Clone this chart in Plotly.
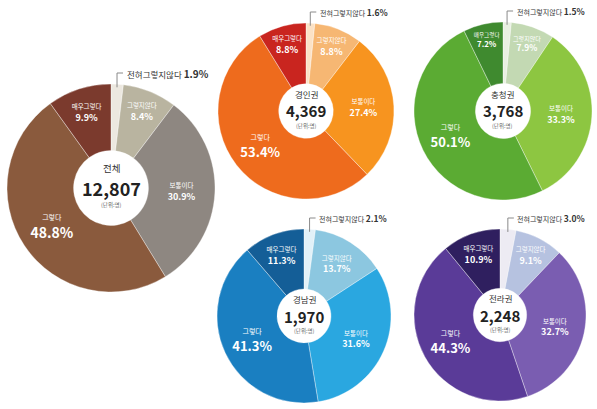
import math
import plotly.graph_objects as go

# Survey answers, clockwise from 12 o'clock
categories = ["전혀그렇지않다", "그렇지않다", "보통이다", "그렇다", "매우그렇다"]

# Region names and number of respondents
regions = ["전체", "경인권", "충청권", "경남권", "전라권"]
respondents = [12807, 4369, 3768, 1970, 2248]

# Share of each answer (%) per region
share_total = [1.9, 8.4, 30.9, 48.8, 9.9]
share_gyeongin = [1.6, 8.8, 27.4, 53.4, 8.8]
share_chungcheong = [1.5, 7.9, 33.3, 50.1, 7.2]
share_gyeongnam = [2.1, 13.7, 31.6, 41.3, 11.3]
share_jeolla = [3.0, 9.1, 32.7, 44.3, 10.9]

shares = [share_total, share_gyeongin, share_chungcheong, share_gyeongnam, share_jeolla]

W, H = 597, 409

# Panel geometry in pixels: centre x, centre y, radius, hole fraction
panels = [
    dict(cx=111, cy=188, r=104, hole=0.36, big=14, num=18, name=9.5,
         colors=["#ece8e0", "#b9b4a0", "#8e8781", "#8a5a3d", "#7b3a2d"]),
    dict(cx=306, cy=111, r=88, hole=0.31, big=13, num=15, name=8.5,
         colors=["#fbe2c6", "#f6b773", "#f7941f", "#ee6b1d", "#c9251f"]),
    dict(cx=503, cy=111, r=89, hole=0.31, big=13, num=15, name=8.5,
         colors=["#e9f0e2", "#c3d9b3", "#8dc641", "#5bab33", "#3f8a2f"]),
    dict(cx=304, cy=316, r=87, hole=0.31, big=13, num=15, name=8.5,
         colors=["#e2f1f8", "#8cc7e0", "#2aa7e0", "#1a7fc1", "#145e97"]),
    dict(cx=500, cy=315, r=86, hole=0.31, big=13, num=15, name=8.5,
         colors=["#edebf3", "#b6c2e0", "#7a5db1", "#5a3b98", "#2f1f5f"]),
]

FONT = "Noto Sans CJK KR"
UNIT_SIZE = 5.5

fig = go.Figure()
shapes = []
annotations = []


def centre_note(x, y, text, size, color, shift):
    return dict(x=x, y=y, xref="paper", yref="paper", text=text, showarrow=False,
                xanchor="center", yanchor="middle", yshift=shift, borderpad=0,
                font=dict(family=FONT, size=size, color=color))


for region, count, vals, p in zip(regions, respondents, shares, panels):
    cx, cy, r = p["cx"], p["cy"], p["r"]
    dom_x = [(cx - r) / W, (cx + r) / W]
    dom_y = [(H - cy - r) / H, (H - cy + r) / H]

    texts, sizes = [], []
    for i, (cat, v) in enumerate(zip(categories, vals)):
        if i == 0:
            texts.append("")
            sizes.append(8)
        elif cat == "그렇다":
            texts.append(f"<span style='font-size:7px'>{cat}</span><br><b>{v:.1f}%</b>")
            sizes.append(p["big"])
        else:
            texts.append(f"<span style='font-size:6.5px'>{cat}</span><br><b>{v:.1f}%</b>")
            sizes.append(9)

    fig.add_trace(go.Pie(
        labels=categories,
        values=vals,
        text=texts,
        texttemplate="%{text}",
        textposition="inside",
        insidetextorientation="horizontal",
        insidetextfont=dict(family=FONT, color="white", size=sizes),
        hole=p["hole"],
        sort=False,
        direction="clockwise",
        rotation=0,
        marker=dict(colors=p["colors"], line=dict(color="rgba(255,255,255,0.6)", width=0.6)),
        domain=dict(x=dom_x, y=dom_y),
        showlegend=False,
        hoverinfo="label+percent",
    ))

    # centre captions: region name, respondent count, unit
    px = cx / W
    py = (H - cy) / H
    up = p["num"] * 0.7 + p["name"] * 0.66 + 1
    down = p["num"] * 0.66 + UNIT_SIZE * 0.66 + 1
    annotations.append(centre_note(px, py, region, p["name"], "#333", up))
    annotations.append(centre_note(px, py, f"<b>{count:,}</b>", p["num"], "#222", 0))
    annotations.append(centre_note(px, py, "(단위:명)", UNIT_SIZE, "#666", -down))

    # leader line for the smallest answer
    a = 2 * math.pi * (vals[0] / 2) / sum(vals)
    x0 = cx + r * 0.97 * math.sin(a)
    y0 = cy - r * 0.97 * math.cos(a)
    y1 = cy - r - 11
    x2 = x0 + 6
    shapes.append(dict(type="path", xref="paper", yref="paper",
                       path=f"M {x0 / W},{(H - y0) / H} L {x0 / W},{(H - y1) / H} L {x2 / W},{(H - y1) / H}",
                       line=dict(color="#8a8a8a", width=1)))
    fs = 8.5 if r > 100 else 7
    annotations.append(dict(x=(x2 + 1.5) / W, y=(H - y1) / H, xref="paper", yref="paper",
                            xanchor="left", yanchor="middle", showarrow=False,
                            text=f"{categories[0]} <b style='font-size:{fs + 1.5}px'>{vals[0]:.1f}%</b>",
                            font=dict(family=FONT, size=fs, color="#333")))

fig.update_layout(
    width=W, height=H,
    margin=dict(l=0, r=0, t=0, b=0),
    paper_bgcolor="white",
    plot_bgcolor="white",
    shapes=shapes,
    annotations=annotations,
    font=dict(family=FONT),
)

fig.write_html("out.html")
